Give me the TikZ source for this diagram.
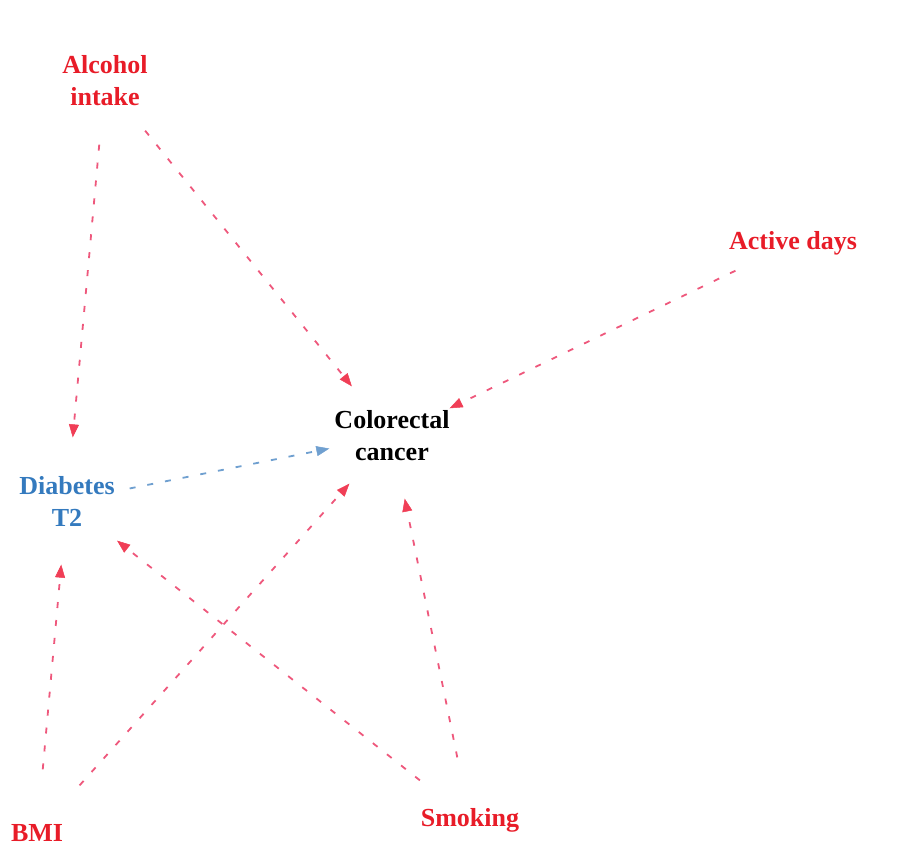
\documentclass[tikz,border=0pt]{standalone}
\usepackage{fontspec}
\setmainfont{Liberation Serif}
\usetikzlibrary{positioning,arrows.meta}
\definecolor{txtred}{RGB}{232,28,40}
\definecolor{txtblue}{RGB}{52,122,190}
\definecolor{edgered}{RGB}{238,88,124}
\definecolor{tipred}{RGB}{240,62,86}
\definecolor{edgeblue}{RGB}{112,160,208}

\begin{document}
\begin{tikzpicture}[x=1pt, y=-1pt, line width=1.8pt,
    main/.style = {circle, minimum size=126pt, inner sep=-20pt, align=center,
                   font=\fontsize{26}{32}\selectfont\bfseries},
    link/.style = {draw=edgered, dash pattern=on 6pt off 12pt,
                   -{Triangle[length=13pt, width=10pt, color=tipred, line width=0.5pt]}},
    bluelink/.style = {link, draw=edgeblue,
                   -{Triangle[length=13pt, width=10pt, color=edgeblue, line width=0.5pt]}}]
    \useasboundingbox (0,0) rectangle (900,865);
    \node[main, txtred] (alcohol) at (105,81) {Alcohol\\intake};
    \node[main, txtred] (active) at (793,243) {Active days};
    \node[main] (crc) at (392,436) {Colorectal\\cancer};
    \node[main, txtblue] (diab) at (67,501) {Diabetes\\T2};
    \node[main, txtred] (bmi) at (37,833) {BMI};
    \node[main, txtred] (smoke) at (470,820) {Smoking};
    \draw[link] (alcohol) -- (diab);
    \draw[link] (alcohol) -- (crc);
    \draw[link] (active) -- (crc);
    \draw[bluelink] (diab) -- (crc);
    \draw[link] (bmi) -- (diab);
    \draw[link] (bmi) -- (crc);
    \draw[link] (smoke) -- (diab);
    \draw[link] (smoke) -- (crc);
\end{tikzpicture}
\end{document}
